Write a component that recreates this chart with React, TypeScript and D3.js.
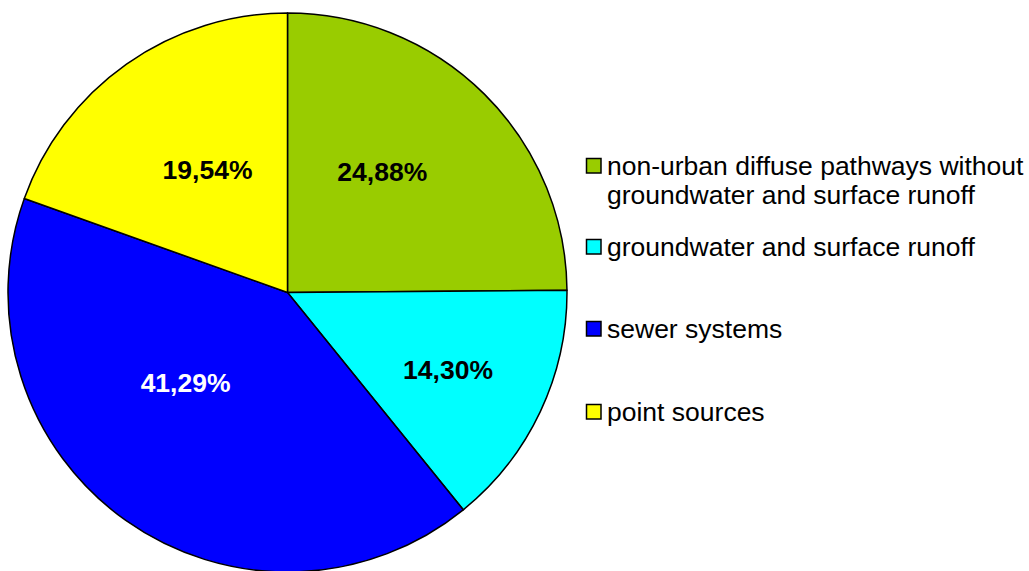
import React from "react";
import * as d3 from "d3";

const categories = [
  "non-urban diffuse pathways without groundwater and surface runoff",
  "groundwater and surface runoff",
  "sewer systems",
  "point sources",
];
const legendLines = [
  ["non-urban diffuse pathways without", "groundwater and surface runoff"],
  ["groundwater and surface runoff"],
  ["sewer systems"],
  ["point sources"],
];
const values = [24.88, 14.3, 41.29, 19.54];
const valueLabels = ["24,88%", "14,30%", "41,29%", "19,54%"];
const colors = ["#99CC00", "#00FFFF", "#0000FF", "#FFFF00"];
const labelColors = ["#000", "#000", "#fff", "#000"];

// layout tweaks (label placement, Excel "best fit" style)
const labelAngleShift = [-6.8, 0.3, 13.2, 2.2]; // degrees
const labelRadius = [154, 178, 136, 147];

export default function App() {
  const W = 1029, H = 571;
  const cx = 287.5, cy = 292.5, r = 279.5;
  const pie = d3.pie<number>().sort(null).value((d) => d)(values);
  const arc = d3.arc<d3.PieArcDatum<number>>().innerRadius(0).outerRadius(r);
  const legendY = [166, 247, 329, 412];
  return (
    <svg width={W} height={H} style={{ position: "absolute", left: 0, top: 0 }}
      fontFamily="'Liberation Sans', Arial, sans-serif">
      <g transform={`translate(${cx},${cy})`}>
        {pie.map((p, i) => (
          <path key={i} d={arc(p) || ""} fill={colors[i]} stroke="#000" strokeWidth={1.5} strokeLinejoin="round" />
        ))}
        {pie.map((p, i) => {
          const a = (p.startAngle + p.endAngle) / 2 + (labelAngleShift[i] * Math.PI) / 180;
          const x = Math.sin(a) * labelRadius[i];
          const y = -Math.cos(a) * labelRadius[i];
          return (
            <text key={i} x={x} y={y} dy="0.36em" textAnchor="middle" fontSize={26.5} fontWeight="bold" fill={labelColors[i]}>
              {valueLabels[i]}
            </text>
          );
        })}
      </g>
      <g>
        {categories.map((c, i) => (
          <g key={c}>
            <rect x={586.5} y={legendY[i] - 7.5} width={14.5} height={14.5} fill={colors[i]} stroke="#000" strokeWidth={1.5} />
            {legendLines[i].map((line, j) => (
              <text key={j} x={607} y={legendY[i] - 1 + j * 29} dy="0.36em" fontSize={26.5} fill="#000">
                {line}
              </text>
            ))}
          </g>
        ))}
      </g>
    </svg>
  );
}
